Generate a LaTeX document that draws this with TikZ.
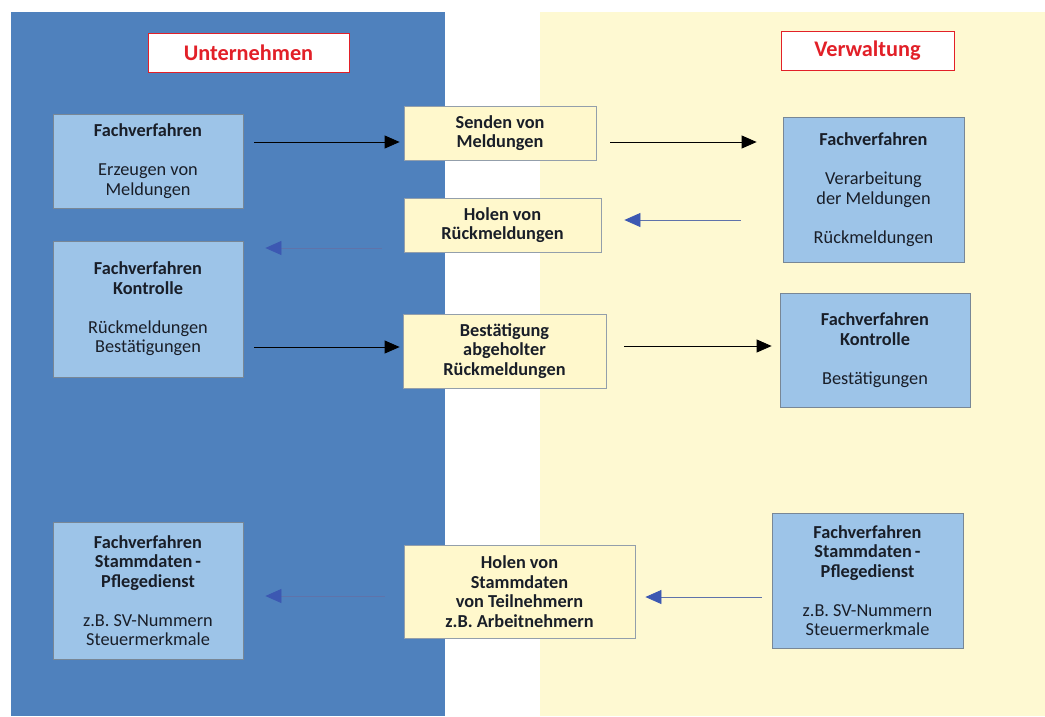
\documentclass[tikz,border=0pt]{standalone}
\usepackage{fontspec}
\setmainfont{Carlito}
\usetikzlibrary{arrows.meta}
\definecolor{panelblue}{RGB}{79,129,189}
\definecolor{panelyellow}{RGB}{254,249,210}
\definecolor{boxblue}{RGB}{157,196,232}
\definecolor{boxyellow}{RGB}{255,248,204}
\definecolor{boxedge}{RGB}{120,135,150}
\definecolor{titlered}{RGB}{226,32,40}
\definecolor{headblue}{RGB}{60,88,178}
\definecolor{lineblue}{RGB}{95,115,170}
\definecolor{textdark}{RGB}{25,30,40}
\tikzset{
  base/.style={inner sep=0pt, align=center, text=textdark,
    font=\fontsize{18.3}{19.5}\selectfont, line width=0.8pt},
  bluebox/.style={base, fill=boxblue, draw=boxedge},
  yellowbox/.style={base, fill=boxyellow, draw=boxedge!80, font=\bfseries\fontsize{18.3}{19.5}\selectfont},
  titlebox/.style={inner sep=0pt, fill=white, draw=titlered, line width=1pt, text=titlered,
    font=\bfseries\fontsize{22.3}{24}\selectfont},
  blackarrow/.style={draw=black, line width=0.8pt, -{Triangle[length=15pt,width=13pt]}},
  bluearrow/.style={draw=lineblue, line width=0.8pt, -{Triangle[length=16pt,width=14pt,color=headblue]}}
}
\begin{document}
\begin{tikzpicture}[x=1pt,y=-1pt]
\useasboundingbox (0,0) rectangle (1045,716);
\fill[white] (0,0) rectangle (1045,716);
\fill[panelblue] (11,12) rectangle (445,716);
\fill[panelyellow] (540,12) rectangle (1045,716);

\node[titlebox, minimum width=201pt, minimum height=39pt] (t1) at (248.5,52.5) {Unternehmen};
\node[titlebox, minimum width=173pt, minimum height=39pt] (t2) at (867.5,50.5) {Verwaltung};

\node[bluebox, minimum width=190pt, minimum height=94pt] (f1) at (148,161)
  {\textbf{Fachverfahren}\\[19.5pt]Erzeugen von\\Meldungen};
\node[yellowbox, minimum width=192pt, minimum height=54pt] (s1) at (500,133)
  {Senden von\\Meldungen};
\node[bluebox, minimum width=181pt, minimum height=145pt] (v1) at (873.5,189.5)
  {\textbf{Fachverfahren}\\[19.5pt]Verarbeitung\\der Meldungen\\[19.5pt]Rückmeldungen};
\node[yellowbox, minimum width=197pt, minimum height=54pt] (h1) at (502.5,225)
  {Holen von\\Rückmeldungen};
\node[bluebox, minimum width=190pt, minimum height=136pt] (f2) at (148,309)
  {\textbf{Fachverfahren}\\\textbf{Kontrolle}\\[19.5pt]Rückmeldungen\\Bestätigungen};
\node[yellowbox, minimum width=203pt, minimum height=74pt] (b1) at (504.5,351)
  {Bestätigung\\abgeholter\\Rückmeldungen};
\node[bluebox, minimum width=190pt, minimum height=114pt] (k2) at (875,350)
  {\textbf{Fachverfahren}\\\textbf{Kontrolle}\\[19.5pt]Bestätigungen};
\node[bluebox, minimum width=190pt, minimum height=137pt] (p1) at (148,590.5)
  {\textbf{Fachverfahren}\\\textbf{Stammdaten\,-}\\\textbf{Pflegedienst}\\[19.5pt]z.B. SV-Nummern\\Steuermerkmale};
\node[yellowbox, minimum width=231pt, minimum height=93pt] (h2) at (519.5,591.5)
  {Holen von\\Stammdaten\\von Teilnehmern\\z.B. Arbeitnehmern};
\node[bluebox, minimum width=191pt, minimum height=135pt] (p2) at (867.5,580.5)
  {\textbf{Fachverfahren}\\\textbf{Stammdaten\,-}\\\textbf{Pflegedienst}\\[19.5pt]z.B. SV-Nummern\\Steuermerkmale};

\coordinate (ya) at (0,142);
\coordinate (yb) at (0,220);
\coordinate (yc) at (0,248);
\coordinate (yd) at (0,347);
\coordinate (ye) at (0,346);
\coordinate (yf) at (0,597);
\coordinate (yg) at (0,596);

\draw[blackarrow, shorten <=11pt, shorten >=4pt] (f1.east |- ya) -- (s1.west |- ya);
\draw[blackarrow, shorten <=14pt, shorten >=26pt] (s1.east |- ya) -- (v1.west |- ya);
\draw[bluearrow, shorten <=42pt, shorten >=23pt] (v1.west |- yb) -- (h1.east |- yb);
\draw[bluearrow, shorten <=22pt, shorten >=22pt] (h1.west |- yc) -- (f2.east |- yc);
\draw[blackarrow, shorten <=11pt, shorten >=3pt] (f2.east |- yd) -- (b1.west |- yd);
\draw[blackarrow, shorten <=18pt, shorten >=8pt] (b1.east |- ye) -- (k2.west |- ye);
\draw[bluearrow, shorten <=10pt, shorten >=10pt] (p2.west |- yf) -- (h2.east |- yf);
\draw[bluearrow, shorten <=19pt, shorten >=22pt] (h2.west |- yg) -- (p1.east |- yg);
\end{tikzpicture}
\end{document}
